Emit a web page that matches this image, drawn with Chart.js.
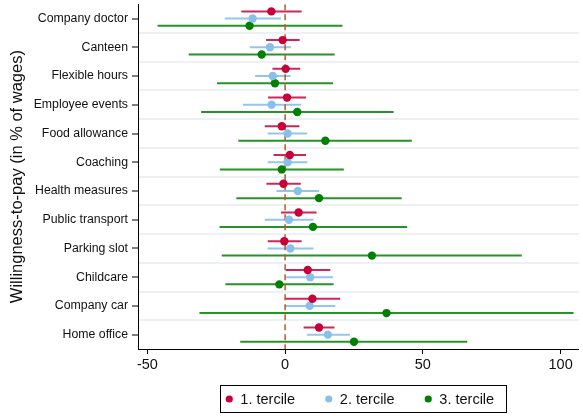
<!DOCTYPE html>
<html>
<head>
<meta charset="utf-8">
<script src="https://cdn.jsdelivr.net/npm/chart.js@4.4.1/dist/chart.umd.min.js"></script>
<style>
  html, body { margin: 0; padding: 0; background: #fff; }
  #wrap { width: 583px; height: 417px; }
</style>
</head>
<body>
<div id="wrap"><canvas id="chartWtp"></canvas></div>
<script>
/* wtp.js - willingness-to-pay by income tercile */

const FONT = '"Liberation Sans", Arial, sans-serif';

const categories = [
  "Company doctor", "Canteen", "Flexible hours", "Employee events",
  "Food allowance", "Coaching", "Health measures", "Public transport",
  "Parking slot", "Childcare", "Company car", "Home office",
];

// 1. tercile
const t1Est = [-5.0, -0.9, 0.2, 0.7, -1.2, 1.7, -0.6, 4.9, -0.3, 8.2, 9.9, 12.3];
const t1Lo = [-15.9, -6.9, -4.6, -6.2, -7.4, -4.2, -6.8, -1.5, -6.3, 0.2, -0.1, 6.7];
const t1Hi = [6.0, 5.3, 5.5, 7.6, 5.2, 7.6, 5.7, 11.4, 6.0, 16.4, 20.0, 17.9];

// 2. tercile
const t2Est = [-11.8, -5.5, -4.5, -4.9, 0.9, 0.9, 4.6, 1.4, 1.9, 9.1, 8.9, 15.5];
const t2Lo = [-21.9, -12.8, -10.9, -15.3, -6.3, -6.3, -3.1, -7.4, -6.4, 0.4, -0.3, 8.0];
const t2Hi = [-1.5, 2.1, 2.0, 5.8, 8.0, 8.1, 12.3, 10.3, 10.3, 17.4, 18.2, 23.5];

// 3. tercile
const t3Est = [-12.9, -8.5, -3.7, 4.4, 14.6, -1.2, 12.3, 10.1, 31.5, -2.1, 36.8, 25.0];
const t3Lo = [-46.3, -35.0, -24.7, -30.5, -17.0, -23.7, -17.7, -23.8, -23.0, -21.7, -31.1, -16.3];
const t3Hi = [20.8, 18.0, 17.4, 39.4, 46.0, 21.3, 42.3, 44.3, 85.9, 17.6, 104.7, 66.1];

const xTicks = [-50, 0, 50, 100];

/* one scatter dataset per tercile, shifted a bit inside each row */
function makeSeries(label, est, lo, hi, shift, color, ciColor) {
  return {
    label,
    data: est.map((v, i) => ({ x: v, y: i + shift })),
    lo,
    hi,
    ciColor,
    backgroundColor: color,
    borderColor: color,
    borderWidth: 0,
    pointRadius: 4.2,
    pointHoverRadius: 4.2,
  };
}

/* CI whiskers + dashed zero line, legend box at the bottom */
const wtpPlugin = {
  id: "wtpExtras",
  beforeDatasetsDraw(chart) {
    const { ctx, chartArea: area, scales: { x, y } } = chart;
    ctx.save();
    ctx.beginPath();
    ctx.rect(area.left, area.top, area.width, area.height);
    ctx.clip();
    chart.data.datasets.forEach((ds) => {
      ctx.strokeStyle = ds.ciColor;
      ctx.lineWidth = 2;
      ds.data.forEach((p, i) => {
        const py = y.getPixelForValue(p.y);
        ctx.beginPath();
        ctx.moveTo(x.getPixelForValue(ds.lo[i]), py);
        ctx.lineTo(x.getPixelForValue(ds.hi[i]), py);
        ctx.stroke();
      });
    });
    const zx = x.getPixelForValue(0);
    ctx.setLineDash([6, 4]);
    ctx.strokeStyle = "#b5582e";
    ctx.lineWidth = 1.5;
    ctx.beginPath();
    ctx.moveTo(zx, area.top);
    ctx.lineTo(zx, area.bottom);
    ctx.stroke();
    ctx.restore();
  },
  afterDraw(chart) {
    const { ctx, chartArea: area } = chart;
    ctx.save();
    ctx.font = `14.5px ${FONT}`;
    const dotR = 3.6, textGap = 7.5, itemGap = 30, padL = 6, padR = 12;
    const items = chart.data.datasets.map((ds) => ({
      label: ds.label,
      color: ds.backgroundColor,
      w: ctx.measureText(ds.label).width,
    }));
    let total = padL + padR + itemGap * (items.length - 1);
    items.forEach((it) => (total += dotR * 2 + textGap + it.w));
    const boxH = 27;
    const boxTop = area.bottom + 36;
    const boxLeft = (area.left + area.right) / 2 + 4.5 - total / 2;
    ctx.strokeStyle = "#000";
    ctx.lineWidth = 1;
    ctx.strokeRect(Math.round(boxLeft) + 0.5, Math.round(boxTop) + 0.5, Math.round(total), boxH);
    const cy = boxTop + boxH / 2 + 0.5;
    let cx = boxLeft + padL;
    ctx.textBaseline = "middle";
    ctx.textAlign = "left";
    items.forEach((it) => {
      ctx.fillStyle = it.color;
      ctx.beginPath();
      ctx.arc(cx + dotR, cy, dotR, 0, Math.PI * 2);
      ctx.fill();
      cx += dotR * 2 + textGap;
      ctx.fillStyle = "#111";
      ctx.fillText(it.label, cx, cy + 1);
      cx += it.w + itemGap;
    });
    ctx.restore();
  },
};

function drawWtp() {
  const ctx = document.getElementById("chartWtp");
  if (!ctx) return;
  new Chart(ctx, {
    type: "scatter",
    data: {
      datasets: [
        makeSeries("1. tercile", t1Est, t1Lo, t1Hi, -0.25, "#c8003a", "rgba(200,0,58,0.85)"),
        makeSeries("2. tercile", t2Est, t2Lo, t2Hi, 0, "#88c0ea", "rgba(136,192,234,0.9)"),
        makeSeries("3. tercile", t3Est, t3Lo, t3Hi, 0.25, "#008000", "rgba(0,128,0,0.85)"),
      ],
    },
    options: {
      responsive: true,
      maintainAspectRatio: false,
      animation: false,
      layout: { padding: { top: 4, right: 0, bottom: 33, left: 0 } },
      scales: {
        x: {
          type: "linear",
          min: -53.4,
          max: 106.6,
          afterBuildTicks: (axis) => {
            axis.ticks = xTicks.map((v) => ({ value: v }));
          },
          afterFit: (axis) => {
            axis.height = 35;
            axis.paddingLeft = 0;
            axis.paddingRight = 0;
          },
          ticks: {
            padding: 2,
            maxRotation: 0,
            color: "#111",
            font: { family: FONT, size: 14.5 },
          },
          grid: { drawOnChartArea: false, tickLength: 5, tickColor: "#000", color: "#000" },
          border: { color: "#000", width: 1 },
        },
        y: {
          type: "linear",
          min: -0.5,
          max: 11.5,
          reverse: true,
          afterBuildTicks: (axis) => {
            const t = [];
            for (let v = -0.5; v <= 11.5; v += 0.5) t.push({ value: v });
            axis.ticks = t;
          },
          afterFit: (axis) => {
            axis.width = 138;
            axis.paddingTop = 0;
            axis.paddingBottom = 0;
          },
          ticks: {
            autoSkip: false,
            padding: 4,
            color: "#111",
            font: { family: FONT, size: 12.3 },
            callback: (v) => (Number.isInteger(v) ? categories[v] : ""),
          },
          grid: {
            lineWidth: 2,
            color: (c) => {
              const v = c.tick ? c.tick.value : 0;
              return !Number.isInteger(v) && v > -0.5 && v < 11.5 ? "#edf1f4" : "rgba(0,0,0,0)";
            },
            tickLength: 6,
            tickWidth: 1,
            tickColor: (c) => (c.tick && Number.isInteger(c.tick.value) ? "#000" : "rgba(0,0,0,0)"),
          },
          border: { color: "#000", width: 1 },
          title: {
            display: true,
            text: "Willingness-to-pay (in % of wages)",
            color: "#111",
            font: { family: FONT, size: 16.5 },
            padding: { top: 8, bottom: 0 },
          },
        },
      },
      plugins: {
        legend: { display: false },
        tooltip: { enabled: false },
      },
    },
    plugins: [wtpPlugin],
  });
}

drawWtp();
</script>
</body>
</html>
